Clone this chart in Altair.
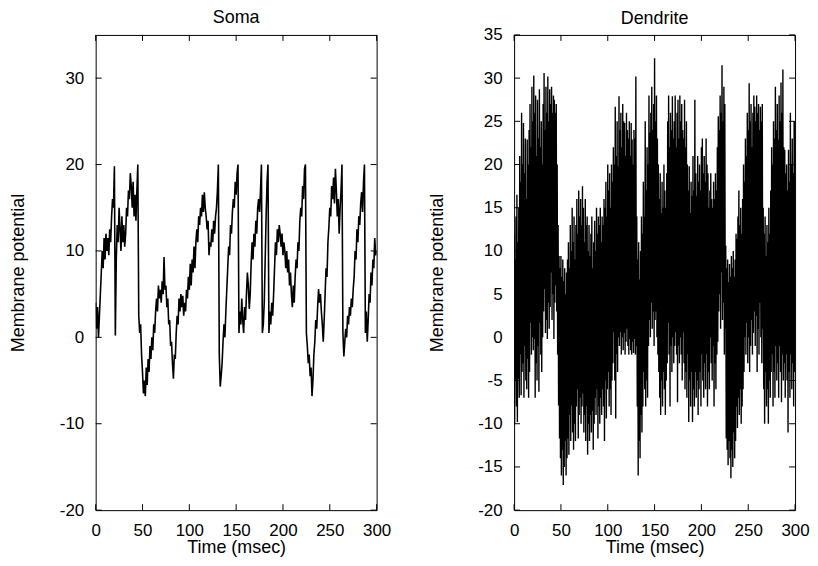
import altair as alt
import pandas as pd

# ---------------- data ----------------
soma_v = [
    4, 1, 3.5, 0, 2.5, 5, 7.5, 10, 8, 11.5,
    9, 12, 10, 11.5, 9.5, 12.5, 11, 14, 16, 15,
    19.8, 0.2, 9, 13, 11, 15, 12.5, 10, 14, 11,
    13, 10.5, 12, 15, 14, 17, 16, 19, 17.5, 15,
    18, 14, 16.5, 13.5, 17, 20, 2.5, 0.5, 1.5, -2,
    -4, -6.5, -5, -6.8, -3.5, -5.5, -2.5, -4, -1, -2.5,
    0, -1.5, 1.5, 0.5, 3, 4.5, 3, 6, 4.5, 5.5,
    4, 6.5, 5, 9.3, 5.5, 6, 3.5, 4.5, 1.5, 2,
    -1, -0.5, -3, -4.8, -2, -2.5, 0.5, 2.5, 1.5, 4.5,
    3, 5, 3.5, 4.8, 2.5, 4, 3, 5.5, 4.5, 7,
    5.5, 8.5, 6, 9, 7.5, 10.5, 8, 11, 12.5, 11,
    14, 13, 15, 14, 16.5, 14.5, 16.8, 15, 14, 12.5,
    13.5, 9.5, 11, 10.5, 12.5, 11, 13.5, 12, 14, 15,
    17, 20, -2, -5.7, -4.5, -3, -0.5, 1.5, 0, 3,
    5.5, 8, 10.5, 9.5, 13, 12, 14.5, 16, 15, 18,
    16.5, 19, 20, 0.5, 3, 1.5, 4.5, 2, 0.5, 3.5,
    2, 5, 7.5, 6, 3.3, 5, 8.5, 11, 9, 12,
    10.5, 13.5, 12, 15, 16, 14.5, 17, 20, 0.5, 1.5,
    4, 9, 14, 18, 20, 0.5, 3, 1.5, 4, 2.5,
    5, 8, 11, 9.5, 12.5, 11, 13, 12, 10.5, 12,
    9.5, 11, 10, 8, 10, 7.5, 9, 6, 7.5, 5,
    3.5, 6, 4, 7, 9, 8, 11, 10, 13.5, 15,
    14, 17.5, 16, 19.5, 20, 0.5, -1, -3, -2, -4.5,
    -3.5, -6.8, -5, -2, -0.5, 2, 1, 3.5, 5.6, 4,
    5, 3, 1.5, -0.5, 2, 5, 8, 7, 11, 12.7,
    15, 14, 17.5, 16, 18.5, 15.5, 19.5, 17, 14, 16,
    12, 15, 17, 20, 0.5, -2.2, -0.5, 1, 0, 2.5,
    1.5, 3.5, 2.5, 4.5, 3.5, 5.6, 7, 10, 9, 12.5,
    11, 14, 13, 15.5, 16.8, 14.5, 18, 20, 0.5, 3,
    -0.5, 2, 5, 4, 7.5, 6, 9, 8, 11.5, 9.5,
    10,
]

dend_hi = [
    12, 9, 14, 16.5, 11, 15, 21, 18, 26, 20,
    24.8, 19, 23, 16, 22.9, 20, 24, 27, 22, 29,
    25, 30.3, 26, 28, 21, 27.5, 23, 28.7, 22, 25,
    20, 27, 30.6, 24, 29, 26, 30.2, 25, 28.7, 27,
    29, 26, 28, 27.5, 26, 27, 20, 13, 9.4, 8,
    9.4, 7, 9, 6.5, 8, 5, 7.5, 9, 11, 8,
    13, 10, 15, 11, 14, 9, 13, 16, 12, 17,
    14, 16, 13, 17.5, 15, 11, 16, 13, 14, 10,
    13, 9.4, 12, 14, 8, 11, 13.5, 10, 15, 12,
    14, 13, 15, 11, 14, 13, 16, 15, 18, 14,
    20, 17, 19, 15, 20, 18, 22, 20, 26.7, 21,
    25, 19.8, 27.9, 24, 26, 22, 27, 25, 24.8, 21,
    26, 24, 23, 25, 21, 24.8, 22.9, 20, 24, 23,
    30.2, 14, 9, 11, 6.7, 10, 14, 12, 18, 14,
    25, 17, 22, 20, 28, 23.7, 26, 29, 24, 27,
    32.3, 25, 28, 23, 20, 16, 19, 14.4, 18, 15,
    20, 17, 15, 19, 25, 28, 22, 26, 24, 27.9,
    23, 25, 28, 22, 26, 27.5, 23, 28, 25, 27,
    24, 23, 27.5, 22, 25, 20, 17, 19.8, 14.4, 18,
    16.4, 21, 17, 27.5, 19, 16.4, 21, 18, 20, 17,
    22, 23, 19, 21, 18, 23, 20, 19, 15, 17,
    19, 16, 15, 18, 16, 19, 17, 22, 25.6, 24,
    28, 26, 31.5, 25, 29, 27, 10.6, 8, 9, 6.4,
    8.5, 7, 9.4, 8, 10, 7, 9, 12, 11.4, 14,
    17, 13, 15, 12, 16, 20, 18, 23, 21, 26,
    24, 29.4, 25, 27, 22, 26, 28, 26.7, 25, 28,
    26, 27, 24, 26.7, 25, 27, 15, 12, 14, 9.4,
    13, 11, 15, 12, 17, 22, 20, 25, 23, 29,
    24, 27, 22.9, 28, 25, 29.5, 26, 31, 22, 21.7,
    19, 20, 17, 21.7, 18, 26, 20, 23, 19, 25,
    25,
]

dend_lo = [
    -10, -5, -8, -9.8, -4.8, -7, -2, -6.7, -4, -3,
    -7, -1, -5, -6, -2.5, -7, -4, 1.7, -2, 0,
    -1.5, -0.2, -7, -3, -5, -1, -6.3, 1.7, -2, -4,
    0, 3, 5.6, 0.5, 2, -0.2, 4, 1, 3.5, 7.5,
    2, 5, -0.2, 4, 6, 3, -2, -7.9, -11.7, -14,
    -16, -13, -17.1, -15, -12, -16, -14, -11.7, -13.6, -9,
    -12, -7.9, -11, -13, -10, -12, -8, -6, -11.7, -9,
    -7, -10, -8, -6.5, -11, -9, -12, -8, -13.6, -10,
    -12, -9, -11, -8.5, -13, -10, -7, -9, -6, -11.7,
    -8, -10, -7, -9, -6, -8, -12, -5, -9.4, -6,
    -4, -8, -6, -9, -5, -3, 0.6, -5, -9.4, -2,
    -4, 0, -1, 0.6, -2, 0, -1.5, 0.5, -2, -0.5,
    1, -1, -2, -0.2, -1.5, -2, -0.5, -1.8, -0.2, -2,
    -1, -8, -16, -12, -14, -9, -11, -8, -4, -6,
    -8, -5, -7, -1, 2, 0, 4, 1, 3, -1,
    2, 3, 0, -2, -4, -7, -9, -5, -8, -4,
    -6, -9, -5, -3, 1.7, -2, -8, -1, -4, 0,
    -3, -1, 0.6, -2, -7.5, -1, -3, 0, -2, -5,
    0.6, -3, -6, -4, -7, -2, -9.8, -5, -8, -4,
    -9.8, -6, -8, -4, -7, -5, -9, -6, -4, -8,
    -2, -5, -7, -3, -6, -2, -8, -4, -6, 0,
    -3, -5, -1, -8, -3, -6, -2, -0.5, 3, 5,
    1, 7.5, 2, 4, -2, 1, -11.7, -13, -14.8, -12,
    -14, -16.3, -13, -15, -11, -14, -12, -8, -10.5, -7,
    -9, -6, -10, -8, -6, -4, 0, -2, 1.7, -3,
    0, -4, -1, 2, -2, 0.5, 3, -1, 2.5, -4,
    1, -2, 4, 0, -3, 1, -6, -10, -4, -8,
    -6, -10, -5, -7, -4, -2, -8, -4, -7, -1,
    -5, -3, -7, -1, -4, -7.5, -2, -5, -3, -7,
    -2, -5, -11, -4, -7, -2, -6, -3, -8, -4,
    -5,
]

x_ticks = [0, 50, 100, 150, 200, 250, 300]
soma_y_ticks = [-20, -10, 0, 10, 20, 30]
dend_y_ticks = [-20, -15, -10, -5, 0, 5, 10, 15, 20, 25, 30, 35]

# ---------------- tables ----------------
soma_df = pd.DataFrame({"t": list(range(len(soma_v))), "v": soma_v})
dend_rows = []
for i, (hi, lo) in enumerate(zip(dend_hi, dend_lo)):
    dend_rows.append({"t": float(i), "v": hi})
    if i < len(dend_hi) - 1:
        dend_rows.append({"t": i + 0.5, "v": lo})
dend_df = pd.DataFrame(dend_rows)

W, H = 282, 477
FONT = "Liberation Sans"
TICK = 6

xscale = alt.Scale(domain=[0, 300], nice=False, zero=False)
yscale = alt.Scale(domain=[-20, 35], nice=False, zero=False)


def panel(df, title, yticks, sw, toff, ytp):
    xax = alt.Axis(values=x_ticks, title="Time (msec)", domain=False, ticks=False,
                   grid=False, labelPadding=12, titlePadding=1,
                   labelFlush=False, labelOverlap=False,
                   labelExpr="'' + datum.value",
                   labelFontSize=17, titleFontSize=18, labelFont=FONT,
                   titleFont=FONT, titleFontWeight="normal",
                   labelColor="black", titleColor="black")
    yax = alt.Axis(values=yticks, title="Membrane potential", domain=False,
                   ticks=False, grid=False, labelPadding=12, titlePadding=ytp,
                   labelFlush=False, labelOverlap=False,
                   labelExpr="'' + datum.value",
                   labelFontSize=17, titleFontSize=18, labelFont=FONT,
                   titleFont=FONT, titleFontWeight="normal",
                   labelColor="black", titleColor="black")
    line = alt.Chart(df).mark_line(color="black", strokeWidth=sw, clip=True).encode(
        x=alt.X("t:Q", scale=xscale, axis=xax),
        y=alt.Y("v:Q", scale=yscale, axis=yax),
    )
    xt = pd.DataFrame({"t": x_ticks})
    yt = pd.DataFrame({"v": yticks})
    bx = alt.Chart(xt).mark_rule(color="black", strokeWidth=1).encode(
        x=alt.X("t:Q", scale=xscale), y=alt.value(H), y2=alt.value(H - TICK))
    tx = alt.Chart(xt).mark_rule(color="black", strokeWidth=1).encode(
        x=alt.X("t:Q", scale=xscale), y=alt.value(0), y2=alt.value(TICK))
    ly = alt.Chart(yt).mark_rule(color="black", strokeWidth=1).encode(
        y=alt.Y("v:Q", scale=yscale), x=alt.value(0), x2=alt.value(TICK))
    ry = alt.Chart(yt).mark_rule(color="black", strokeWidth=1).encode(
        y=alt.Y("v:Q", scale=yscale), x=alt.value(W), x2=alt.value(W - TICK))
    return alt.layer(line, bx, tx, ly, ry).properties(
        width=W, height=H,
        title=alt.TitleParams(title, fontSize=18, font=FONT, fontWeight="normal",
                              color="black", offset=toff, anchor="middle"),
    )


chart = alt.hconcat(
    panel(soma_df, "Soma", soma_y_ticks, 1.6, 7, 32),
    panel(dend_df, "Dendrite", dend_y_ticks, 1.4, -2, 31),
    spacing=36,
).properties(
    padding={"left": 0, "top": 0, "right": 0, "bottom": 0},
    background="white",
).configure_view(stroke="black", strokeWidth=1)

chart.save("out.html", embed_options={"renderer": "svg", "actions": False})
